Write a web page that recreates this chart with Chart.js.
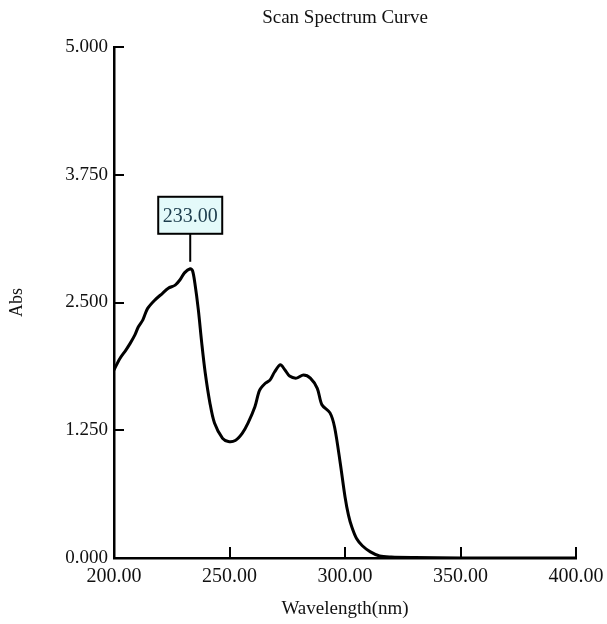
<!DOCTYPE html>
<html>
<head>
<meta charset="utf-8">
<script src="https://cdn.jsdelivr.net/npm/chart.js@4/dist/chart.umd.min.js"></script>
<style>
  html, body { margin: 0; padding: 0; background: #fff; }
  #wrap { width: 607px; height: 624px; }
</style>
</head>
<body>
<div id="wrap"><canvas id="spectrum"></canvas></div>
<script>
// Wavelength (nm) and absorbance
const wavelengths = [200, 202.5, 205, 207, 209, 210.5, 212.5, 214.5, 217.5, 221,
  223.5, 226.5, 228.5, 230.5, 233, 234, 235, 236.5, 238, 239.5,
  241.5, 243.5, 247, 249.5, 252.5, 255.5, 258, 261, 263, 265.5,
  267.5, 269.5, 272, 274, 276, 279, 282, 285, 288, 290,
  293.5, 295.5, 298, 300, 301.5, 303, 305, 307.5, 311, 315,
  320, 330, 350, 375, 400];
const absorbance = [1.84, 1.95, 2.03, 2.10, 2.18, 2.26, 2.33, 2.44, 2.52, 2.59,
  2.64, 2.67, 2.72, 2.79, 2.83, 2.81, 2.69, 2.43, 2.10, 1.81,
  1.52, 1.32, 1.17, 1.14, 1.15, 1.22, 1.32, 1.48, 1.64, 1.71,
  1.74, 1.82, 1.89, 1.84, 1.78, 1.76, 1.79, 1.76, 1.66, 1.50,
  1.42, 1.28, 0.92, 0.60, 0.42, 0.30, 0.19, 0.12, 0.06, 0.02,
  0.01, 0.005, 0, 0, 0];
const xTicks = [200, 250, 300, 350, 400];
const yTicks = [0, 1.25, 2.5, 3.75, 5];
const peakWavelength = 233;
const peakAbs = 2.83;

const serif = '"Liberation Serif", "DejaVu Serif", serif';

// titre, marques internes et étiquette du pic
const decorations = {
  id: 'decorations',
  afterDraw(chart) {
    const { ctx, chartArea, scales } = chart;
    const x = scales.x, y = scales.y;
    ctx.save();
    ctx.strokeStyle = '#000';
    ctx.lineWidth = 2;
    // inward ticks
    yTicks.forEach(v => {
      const py = Math.round(y.getPixelForValue(v));
      ctx.beginPath();
      ctx.moveTo(chartArea.left, py);
      ctx.lineTo(chartArea.left + 10, py);
      ctx.stroke();
    });
    xTicks.forEach(v => {
      const px = Math.round(x.getPixelForValue(v));
      ctx.beginPath();
      ctx.moveTo(px, chartArea.bottom);
      ctx.lineTo(px, chartArea.bottom - 11);
      ctx.stroke();
    });

    // title
    ctx.fillStyle = '#111';
    ctx.font = '19px ' + serif;
    ctx.textAlign = 'center';
    ctx.textBaseline = 'middle';
    ctx.fillText('Scan Spectrum Curve', (chartArea.left + chartArea.right) / 2, 18);

    // peak label
    const px = x.getPixelForValue(peakWavelength);
    const py = y.getPixelForValue(peakAbs);
    const boxW = 64, boxH = 37;
    const boxBottom = py - 35;
    ctx.lineWidth = 2;
    ctx.beginPath();
    ctx.moveTo(px, py - 7);
    ctx.lineTo(px, boxBottom);
    ctx.stroke();
    ctx.fillStyle = '#e4fafa';
    ctx.fillRect(px - boxW / 2, boxBottom - boxH, boxW, boxH);
    ctx.strokeRect(px - boxW / 2, boxBottom - boxH, boxW, boxH);
    ctx.fillStyle = '#1d3d4d';
    ctx.font = '20px ' + serif;
    ctx.fillText(peakWavelength.toFixed(2), px, boxBottom - boxH / 2 + 1);
    ctx.restore();
  }
};

new Chart(document.getElementById('spectrum'), {
  type: 'line',
  data: {
    datasets: [{
      data: wavelengths.map((w, i) => ({ x: w, y: absorbance[i] })),
      borderColor: '#000',
      borderWidth: 3,
      pointRadius: 0,
      tension: 0.3,
      fill: false
    }]
  },
  options: {
    responsive: true,
    maintainAspectRatio: false,
    animation: false,
    layout: { padding: { top: 47, right: 31, left: 0, bottom: 0 } },
    plugins: {
      legend: { display: false },
      tooltip: { enabled: false }
    },
    scales: {
      x: {
        type: 'linear',
        min: 200,
        max: 400,
        afterBuildTicks: (s) => { s.ticks = xTicks.map(v => ({ value: v })); },
        afterFit: (s) => { s.height = 66; s.paddingLeft = 0; s.paddingRight = 0; },
        grid: { display: false, drawTicks: false },
        border: { display: true, color: '#000', width: 2.5 },
        ticks: {
          color: '#111',
          padding: 7,
          maxRotation: 0,
          font: { family: serif, size: 20 },
          callback: (v) => Number(v).toFixed(2)
        },
        title: {
          display: true,
          text: 'Wavelength(nm)',
          color: '#111',
          font: { family: serif, size: 19 },
          padding: { top: 4, bottom: 4 }
        }
      },
      y: {
        min: 0,
        max: 5,
        afterBuildTicks: (s) => { s.ticks = yTicks.map(v => ({ value: v })); },
        afterFit: (s) => { s.width = 114; },
        grid: { display: false, drawTicks: false },
        border: { display: true, color: '#000', width: 2.5 },
        ticks: {
          color: '#111',
          padding: 6,
          font: { family: serif, size: 19 },
          callback: (v) => Number(v).toFixed(3)
        },
        title: {
          display: true,
          text: 'Abs',
          color: '#111',
          font: { family: serif, size: 18 },
          padding: { top: 6, bottom: 0 }
        }
      }
    }
  },
  plugins: [decorations]
});
</script>
</body>
</html>
